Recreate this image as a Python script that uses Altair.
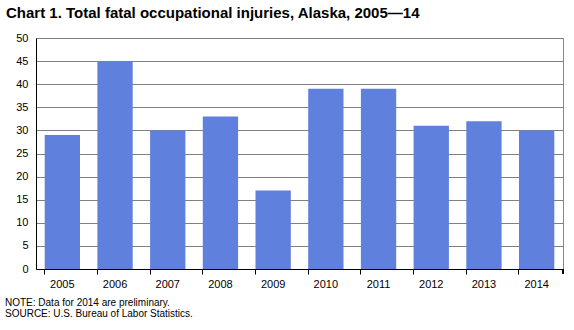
import altair as alt
import pandas as pd

years = ["2005", "2006", "2007", "2008", "2009", "2010", "2011", "2012", "2013", "2014"]
values = [29, 45, 30, 33, 17, 39, 39, 31, 32, 30]
title_text = "Chart 1. Total fatal occupational injuries, Alaska, 2005\u201414"
note_lines = ["NOTE: Data for 2014 are preliminary.", "SOURCE: U.S. Bureau  of Labor Statistics."]

df = pd.DataFrame({"year": years, "value": values})
FONT = "Liberation Sans"

bars = alt.Chart(df).mark_bar(color="#5f80dc").encode(
    x=alt.X("year:N", sort=years, title=None,
            scale=alt.Scale(paddingInner=0.33, paddingOuter=0.165),
            axis=alt.Axis(labelAngle=0, bandPosition=0,
                          domainColor="black", tickColor="black", tickSize=5,
                          labelFont=FONT, labelFontSize=11, labelColor="black",
                          labelPadding=4, grid=False)),
    y=alt.Y("value:Q", title=None,
            scale=alt.Scale(domain=[0, 50]),
            axis=alt.Axis(values=list(range(0, 51, 5)), grid=True, gridColor="#808080",
                          gridWidth=1, ticks=False, domainColor="black",
                          labelFont=FONT, labelFontSize=11, labelColor="black",
                          labelPadding=8)),
)

right_tick = alt.Chart(df).mark_rule(color="black").encode(
    x=alt.value(527), y=alt.value(231), y2=alt.value(236)
)

note1 = alt.Chart(pd.DataFrame({"t": [note_lines[0]]})).mark_text(
    align="left", baseline="alphabetic", font=FONT, fontSize=10, color="black"
).encode(x=alt.value(-31), y=alt.value(268), text="t:N")

note2 = alt.Chart(pd.DataFrame({"t": [note_lines[1]]})).mark_text(
    align="left", baseline="alphabetic", font=FONT, fontSize=10, color="black"
).encode(x=alt.value(-31), y=alt.value(279), text="t:N")

chart = alt.layer(bars, right_tick, note1, note2).properties(
    width=527, height=231,
    title=alt.TitleParams(title_text, anchor="start", frame="group", font=FONT, fontSize=15,
                          fontWeight="bold", color="black", dx=-30, offset=11),
    padding={"left": 36, "top": 38, "right": 11, "bottom": 61},
    autosize=alt.AutoSizeParams(type="none"),
).configure_view(stroke="#888888", strokeWidth=1)

chart.save("out.html", embed_options={"renderer": "svg", "actions": False})
